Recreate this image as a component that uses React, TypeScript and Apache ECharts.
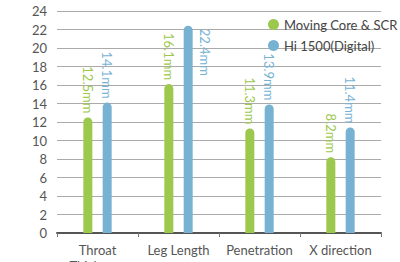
import React, { useEffect, useRef } from "react";
import * as echarts from "echarts";

const categories = ["Throat\nThickness", "Leg Length", "Penetration", "X direction"];
const movingCore = [12.5, 16.1, 11.3, 8.2];
const hi1500 = [14.1, 22.4, 13.9, 11.4];
const seriesNames = ["Moving Core & SCR", "Hi 1500(Digital)"];

const GREEN = "#9dc84e";
const BLUE = "#77b2d3";
const FONT = "Lato";

export default function App() {
  const ref = useRef<HTMLDivElement>(null);
  useEffect(() => {
    if (!ref.current) return;
    const chart = echarts.init(ref.current, null, { renderer: "svg" });
    const labelBase = {
      show: true,
      position: "top",
      rotate: -90,
      align: "right",
      verticalAlign: "middle",
      distance: 4,
      fontSize: 13,
      fontFamily: FONT,
      formatter: "{c}mm",
    };
    chart.setOption({
      animation: false,
      textStyle: { fontFamily: FONT },
      grid: {
        left: 57,
        right: 19,
        top: 11,
        bottom: 29,
        containLabel: false,
        outerBoundsMode: "none",
      },
      legend: {
        orient: "vertical",
        left: 263,
        top: 13,
        icon: "circle",
        itemWidth: 11,
        itemHeight: 11,
        itemGap: 8,
        textStyle: { fontSize: 13, color: "#444", fontFamily: FONT },
        data: seriesNames,
      },
      xAxis: {
        type: "category",
        data: categories,
        axisLine: { lineStyle: { color: "#555", width: 2 } },
        axisTick: { show: true, length: 4, lineStyle: { color: "#777" } },
        axisLabel: {
          color: "#555",
          fontSize: 13,
          margin: 9,
          lineHeight: 16,
          interval: 0,
          fontFamily: FONT,
        },
      },
      yAxis: {
        type: "value",
        min: 0,
        max: 24,
        interval: 2,
        axisLine: { show: false },
        axisTick: { show: false },
        axisLabel: { color: "#555", fontSize: 13, margin: 10, fontFamily: FONT },
        splitLine: { lineStyle: { color: "#aaa", width: 1 } },
      },
      series: [
        {
          name: seriesNames[0],
          type: "bar",
          data: movingCore,
          barWidth: 9,
          barGap: "115%",
          itemStyle: { color: GREEN, borderRadius: [5, 5, 0, 0] },
          label: { ...labelBase, color: GREEN },
        },
        {
          name: seriesNames[1],
          type: "bar",
          data: hi1500.map((v, i) =>
            i === 1
              ? {
                  value: v,
                  label: { position: [21, 3], align: "left", verticalAlign: "middle", rotate: -90 },
                }
              : v
          ),
          barWidth: 9,
          itemStyle: { color: BLUE, borderRadius: [5, 5, 0, 0] },
          label: { ...labelBase, color: BLUE },
        },
      ],
    });
    return () => chart.dispose();
  }, []);
  return (
    <div
      ref={ref}
      style={{ position: "absolute", left: 0, top: 0, width: 400, height: 262 }}
    />
  );
}
